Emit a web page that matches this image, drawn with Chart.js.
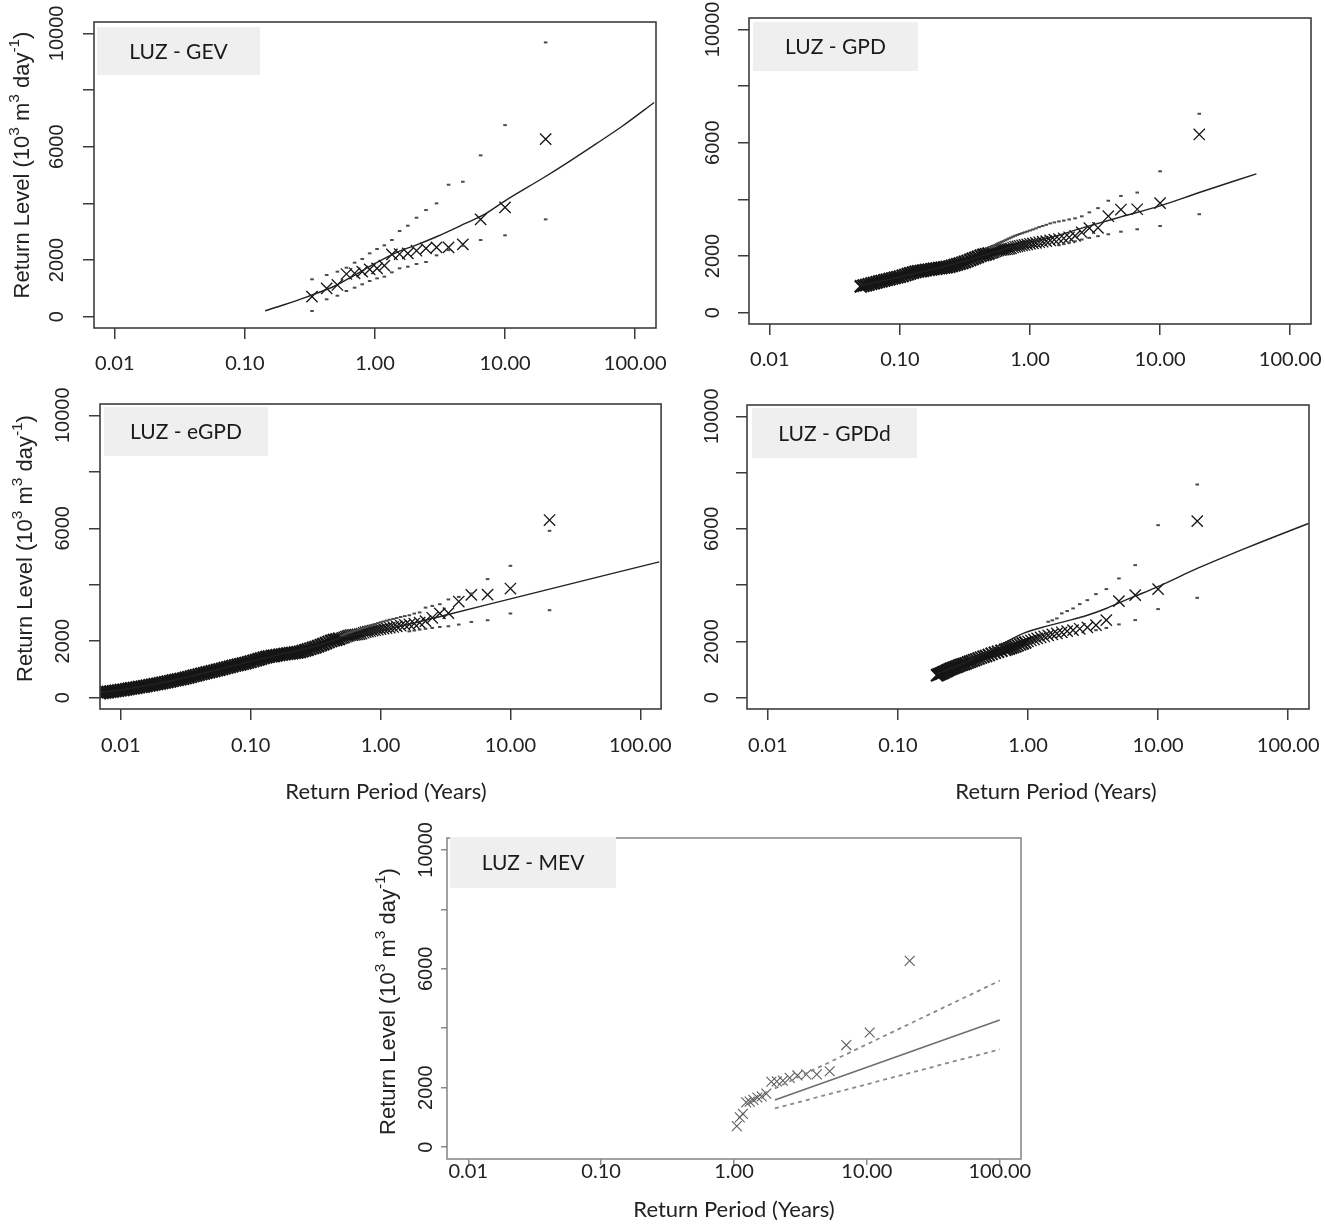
<!DOCTYPE html>
<html>
<head>
<meta charset="utf-8">
<title>LUZ - return level plots</title>
<script src="https://cdn.jsdelivr.net/npm/chart.js@4.4.1/dist/chart.umd.min.js"></script>
<style>
  html, body { margin: 0; padding: 0; background: #fff; }
  body { position: relative; width: 1325px; height: 1228px; overflow: hidden; }
  canvas { position: absolute; }
</style>
</head>
<body>
<canvas id="gev"></canvas>
<canvas id="gpd"></canvas>
<canvas id="egpd"></canvas>
<canvas id="gpdd"></canvas>
<canvas id="mev"></canvas>
<script>
/* ============================================
   DATA
   ============================================ */

const xTickValues = [0.01, 0.1, 1, 10, 100];
const xTickLabels = ['0.01', '0.10', '1.00', '10.00', '100.00'];
const yTickValues = [0, 2000, 4000, 6000, 8000, 10000];
const yTickLabels = ['0', '2000', '', '6000', '', '10000'];

// annual maxima, ascending (crosses of GEV and MEV panels)
const annualMax = [706, 1000, 1118, 1506, 1530, 1588, 1670, 1706, 1800, 2200, 2211, 2235, 2329, 2411, 2447, 2447, 2552, 3434, 3857, 6267];

// GEV
const gevPeriod = [0.328, 0.425, 0.514, 0.603, 0.697, 0.798, 0.91, 1.037, 1.18, 1.348, 1.546, 1.787, 2.085, 2.466, 2.972, 3.677, 4.733, 6.487, 9.99, 20.5];
const gevUpper = [1319, 1470, 1588, 1729, 1905, 2035, 2235, 2388, 2517, 2705, 3023, 3210, 3492, 3763, 3999, 4656, 4762, 5693, 6761, 9680];
const gevLower = [201, 613, 741, 906, 1023, 1141, 1259, 1353, 1412, 1564, 1706, 1764, 1859, 1929, 2164, 2350, 2500, 2705, 2870, 3434];
const gevCurvePeriod = [0.143, 0.2, 0.3, 0.5, 0.7, 1, 1.5, 2, 3, 5, 7, 10, 20, 30, 50, 80, 140];
const gevCurveLevel = [210, 420, 700, 1100, 1470, 1880, 2290, 2500, 2830, 3300, 3620, 4090, 4920, 5430, 6100, 6730, 7560];

// daily exceedances (GPD / eGPD crosses): largest 40
const topPeriod = [20, 10, 6.67, 5, 4, 3.33, 2.86, 2.5, 2.22, 2, 1.818, 1.667, 1.538, 1.429, 1.333, 1.25, 1.176, 1.111, 1.053, 1,
  0.952, 0.909, 0.87, 0.833, 0.8, 0.769, 0.741, 0.714, 0.69, 0.667, 0.645, 0.625, 0.606, 0.588, 0.571, 0.556, 0.541, 0.526, 0.513, 0.5];
const topLevel = [6290, 3865, 3650, 3640, 3405, 2995, 2985, 2830, 2710, 2660, 2625, 2600, 2575, 2550, 2525, 2505, 2485, 2465, 2445, 2430,
  2410, 2390, 2375, 2355, 2340, 2325, 2300, 2270, 2250, 2240, 2235, 2225, 2218, 2212, 2200, 2180, 2160, 2140, 2120, 2100];
// dense part of the band
const bandPeriod = [0.479, 0.457, 0.437, 0.417, 0.398, 0.38, 0.363, 0.347, 0.331, 0.316,
  0.302, 0.288, 0.275, 0.263, 0.251, 0.24, 0.229, 0.219, 0.209, 0.2,
  0.191, 0.182, 0.174, 0.166, 0.158, 0.151, 0.145, 0.138, 0.132, 0.126,
  0.12, 0.115, 0.11, 0.105, 0.1, 0.0955, 0.0912, 0.0871, 0.0832, 0.0794,
  0.0759, 0.0724, 0.0692, 0.0661, 0.0631, 0.0603, 0.0575, 0.055, 0.0525, 0.0501,
  0.0479, 0.0457, 0.0437, 0.0417, 0.0398, 0.038, 0.0363, 0.0347, 0.0331, 0.0316,
  0.0302, 0.0288, 0.0275, 0.0263, 0.0251, 0.024, 0.0229, 0.0219, 0.0209, 0.02,
  0.0191, 0.0182, 0.0174, 0.0166, 0.0158, 0.0151, 0.0145, 0.0138, 0.0132, 0.0126,
  0.012, 0.0115, 0.011, 0.0105, 0.01, 0.00955, 0.00912, 0.00871, 0.00832, 0.00794,
  0.00759, 0.00724, 0.00692];
const bandLevel = [2081, 2060, 2040, 2009, 1972, 1935, 1898, 1861, 1824, 1789,
  1761, 1733, 1706, 1678, 1650, 1622, 1607, 1595, 1582, 1569,
  1557, 1544, 1530, 1515, 1500, 1485, 1470, 1455, 1440, 1412,
  1385, 1357, 1329, 1302, 1274, 1250, 1228, 1206, 1184, 1162,
  1140, 1117, 1093, 1069, 1045, 1022, 998, 974, 951, 929,
  907, 885, 862, 840, 818, 794, 770, 746, 723, 699,
  675, 656, 638, 619, 601, 582, 564, 545, 527, 508,
  490, 471, 453, 435, 419, 404, 388, 373, 358, 342,
  327, 311, 296, 281, 265, 251, 239, 226, 214, 201,
  188, 176, 163];

// GPD
const gpdUpper = [7020, 4990, 4240, 4120, 3950, 3690, 3540, 3400, 3330, 3290, 3250, 3220, 3185, 3150, 3100, 3060, 3020, 2975, 2935, 2900,
  2865, 2835, 2805, 2775, 2745, 2715, 2685, 2650, 2620, 2585, 2555, 2525, 2500, 2475, 2450, 2420, 2390, 2360, 2330, 2300];
const gpdLower = [3475, 3060, 2943, 2858, 2766, 2700, 2640, 2580, 2520, 2470, 2420, 2380];
const gpdCurvePeriod = [0.05, 0.1, 0.2, 0.33, 0.5, 0.7, 1, 1.5, 2.57, 5, 10, 20, 55];
const gpdCurveLevel = [950, 1260, 1580, 1850, 2100, 2300, 2480, 2680, 3000, 3380, 3770, 4240, 4900];

// eGPD
const egpdUpper = [5910, 4670, 4200, 3690, 3570, 3480, 3310, 3250, 3190, 3020, 2980, 2920, 2890, 2860, 2820, 2790, 2760, 2730, 2700, 2670,
  2640, 2610, 2580, 2555, 2530, 2500, 2475, 2450, 2425, 2400, 2380, 2360, 2340, 2320, 2300, 2280, 2260, 2240, 2220, 2200];
const egpdLower = [3098, 2981, 2743, 2683, 2590, 2530, 2506, 2470, 2440, 2410, 2380, 2350];
const egpdCurvePeriod = [0.0069, 0.01, 0.0167, 0.03, 0.055, 0.1, 0.18, 0.32, 0.5, 0.7, 1, 3.2, 10, 140];
const egpdCurveLevel = [180, 275, 450, 690, 985, 1285, 1560, 1830, 2130, 2280, 2380, 2930, 3500, 4810];

// GPDd (declustered)
const gpddPeriod = [20, 10, 6.67, 5, 4, 3.33, 2.86, 2.5, 2.22, 2, 1.818, 1.667, 1.538, 1.429, 1.333, 1.25, 1.176, 1.111, 1.053, 1,
  0.952, 0.909, 0.87, 0.833, 0.8, 0.769, 0.741, 0.714, 0.69, 0.667, 0.625, 0.588, 0.556, 0.526, 0.5, 0.476, 0.455, 0.435, 0.417, 0.4,
  0.385, 0.37, 0.357, 0.345, 0.333, 0.323, 0.313, 0.303, 0.294, 0.286, 0.278, 0.27, 0.263, 0.256, 0.25, 0.244, 0.238, 0.233, 0.227, 0.222,
  0.217, 0.213, 0.208, 0.204, 0.2];
const gpddLevel = [6273, 3859, 3646, 3433, 2758, 2581, 2499, 2450, 2403, 2368, 2325, 2285, 2250, 2214, 2178, 2143, 2108, 2072, 2036, 2001,
  1965, 1930, 1895, 1860, 1825, 1800, 1775, 1750, 1728, 1705, 1670, 1635, 1600, 1560, 1516, 1485, 1455, 1425, 1395, 1362,
  1335, 1305, 1278, 1250, 1220, 1200, 1180, 1160, 1135, 1113, 1092, 1071, 1050, 1029, 1008, 985, 960, 936, 912, 888,
  870, 852, 835, 818, 800];
const gpddUpper = [7575, 6131, 4711, 4238, 3859, 3681, 3468, 3326, 3173, 3080, 2996, 2818, 2750, 2700];
const gpddLower = [3550, 3149, 2758, 2605, 2480, 2400];
const gpddCurvePeriod = [0.198, 0.337, 0.61, 0.92, 1.39, 2, 2.86, 4.03, 5, 6.67, 10, 20.4, 50, 143];
const gpddCurveLevel = [840, 1278, 1871, 2285, 2545, 2730, 2930, 3180, 3370, 3610, 3950, 4610, 5360, 6190];

// MEV
const mevPeriod = [1.05, 1.105, 1.167, 1.235, 1.313, 1.4, 1.5, 1.615, 1.75, 1.909, 2.1, 2.333, 2.625, 3.0, 3.5, 4.2, 5.25, 7.0, 10.5, 21.0];
const mevCurvePeriod = [2.03, 100];
const mevCurveLevel = [1582, 4276];
const mevUpperLevel = [1976, 5600];
const mevLowerLevel = [1302, 3289];

/* ============================================
   LAYOUT (page pixels)
   ============================================ */

const panels = {
  gev:  { name: 'LUZ - GEV',  canvas: [0, 0, 670, 385],     box: [94, 22, 656, 328],   tag: [3, 5, 163, 48],  yLab: 37, yTitle: 71, yShift: -10, xLab: 36, frame: '#3c3c3c', tick: 11 },
  gpd:  { name: 'LUZ - GPD',  canvas: [670, 0, 655, 385],   box: [749, 18, 1311, 324], tag: [4, 4, 165, 49],  yLab: 36, xLab: 36, frame: '#3c3c3c', tick: 11 },
  egpd: { name: 'LUZ - eGPD', canvas: [0, 385, 672, 430],   box: [100, 404, 662, 709], tag: [4, 3, 164, 49],  yLab: 37, yTitle: 74, yShift: -8, xLab: 37, xTitle: [83, 286], frame: '#3c3c3c', tick: 11 },
  gpdd: { name: 'LUZ - GPDd', canvas: [672, 385, 653, 430], box: [747, 405, 1309, 709], tag: [5, 3, 165, 50],  yLab: 35, xLab: 37, xTitle: [83, 309], frame: '#3c3c3c', tick: 11 },
  mev:  { name: 'LUZ - MEV',  canvas: [360, 815, 680, 413], box: [447, 838, 1021, 1159], tag: [3, -1, 166, 51], yLab: 21, yTitle: 58, yShift: 3, xLab: 13, xTitle: [51, 287], frame: '#8a8a8a', tick: 6 },
};

const yTitleParts = [
  { t: 'Return Level (10' }, { t: '3', sup: true }, { t: ' m' }, { t: '3', sup: true },
  { t: ' day' }, { t: '-1', sup: true }, { t: ')' },
];
const xTitleText = 'Return Period (Years)';

/**
 * Draw a line of text with superscripts, centred on (0,0)
 */
function drawRich(ctx, parts, size, family) {
  const widths = parts.map(p => {
    ctx.font = (p.sup ? size * 0.7 : size) + 'px ' + family;
    return ctx.measureText(p.t).width;
  });
  let x = -widths.reduce((a, b) => a + b, 0) / 2;
  ctx.textAlign = 'left';
  parts.forEach((p, i) => {
    ctx.font = (p.sup ? size * 0.7 : size) + 'px ' + family;
    ctx.fillText(p.t, x, p.sup ? -size * 0.36 : 0);
    x += widths[i];
  });
}

/* R-like frame, labels and panel tag */
const rStyle = {
  id: 'rStyle',
  afterDraw(chart) {
    const p = panels[chart.canvas.id];
    const { ctx, chartArea: a } = chart;
    const xs = chart.scales.x, ys = chart.scales.y;
    ctx.save();

    ctx.strokeStyle = p.frame;
    ctx.lineWidth = 1.6;
    ctx.strokeRect(a.left, a.top, a.right - a.left, a.bottom - a.top);

    // panel tag
    ctx.fillStyle = '#efefef';
    ctx.fillRect(a.left + p.tag[0], a.top + p.tag[1], p.tag[2], p.tag[3]);
    ctx.fillStyle = '#1a1a1a';
    ctx.font = '21px Lato';
    ctx.textAlign = 'center';
    ctx.textBaseline = 'middle';
    ctx.fillText(p.name, a.left + p.tag[0] + p.tag[2] / 2, a.top + p.tag[1] + p.tag[3] / 2 + 1);

    // x tick labels
    ctx.fillStyle = '#222';
    ctx.font = '20px Lato';
    xTickValues.forEach((v, i) => {
      ctx.fillText(xTickLabels[i], xs.getPixelForValue(v), a.bottom + p.xLab);
    });

    // y tick labels, rotated like R
    ctx.font = '20px "Liberation Sans"';
    yTickValues.forEach((v, i) => {
      if (!yTickLabels[i]) return;
      ctx.save();
      ctx.translate(a.left - p.yLab, ys.getPixelForValue(v));
      ctx.rotate(-Math.PI / 2);
      ctx.fillText(yTickLabels[i], 0, 0);
      ctx.restore();
    });

    if (p.yTitle) {
      ctx.save();
      ctx.translate(a.left - p.yTitle, (a.top + a.bottom) / 2 + p.yShift);
      ctx.rotate(-Math.PI / 2);
      drawRich(ctx, yTitleParts, 22, '"Liberation Sans"');
      ctx.restore();
    }

    if (p.xTitle) {
      ctx.textAlign = 'center';
      ctx.font = '22px Lato';
      ctx.fillText(xTitleText, a.left + p.xTitle[1], a.bottom + p.xTitle[0]);
    }
    ctx.restore();
  }
};
Chart.register(rStyle);

/* ============================================
   DATASETS
   ============================================ */

const pts = (xs, ys) => ys.map((y, i) => ({ x: xs[i], y }));
const pick = (arr, idx) => idx.map(i => arr[i]);

function crosses(xs, ys, color, r, w) {
  return { data: pts(xs, ys), pointStyle: 'crossRot', pointRadius: r, borderWidth: w,
           borderColor: color, backgroundColor: color, showLine: false, order: 2 };
}
function dots(xs, ys) {
  return { data: pts(xs, ys), pointStyle: 'line', pointRadius: 1.8, borderWidth: 2,
           borderColor: '#4a4a4a', backgroundColor: '#4a4a4a', showLine: false, order: 1 };
}
function curve(xs, ys, color, width, dash) {
  return { data: pts(xs, ys), showLine: true, pointRadius: 0, borderWidth: width,
           borderColor: color, borderDash: dash || [], cubicInterpolationMode: 'monotone', order: 0 };
}

// GPD band stops at the threshold (return period ~0.05 years)
const gpdBand = bandPeriod.map((t, i) => i).filter(i => bandPeriod[i] >= 0.05);
// GPDd: sparse crosses above 1 year, packed band below
const gpddSparse = gpddPeriod.map((t, i) => i).filter(i => gpddPeriod[i] >= 1);
const gpddDense = gpddPeriod.map((t, i) => i).filter(i => gpddPeriod[i] < 1);
const ink = '#151515';

const datasets = {
  gev: [
    curve(gevCurvePeriod, gevCurveLevel, '#222', 1.4),
    crosses(gevPeriod, annualMax, ink, 8, 1.3),
    dots(gevPeriod, gevUpper),
    dots(gevPeriod, gevLower),
  ],
  gpd: [
    curve(gpdCurvePeriod, gpdCurveLevel, '#222', 1.4),
    crosses(topPeriod, topLevel, ink, 8, 1.3),
    crosses(pick(bandPeriod, gpdBand), pick(bandLevel, gpdBand), ink, 8.5, 2.4),
    dots(topPeriod, gpdUpper),
    dots(topPeriod, gpdLower),
  ],
  egpd: [
    curve(egpdCurvePeriod, egpdCurveLevel, '#222', 1.4),
    crosses(topPeriod, topLevel, ink, 8, 1.3),
    crosses(bandPeriod, bandLevel, ink, 8.5, 2.4),
    dots(topPeriod, egpdUpper),
    dots(topPeriod, egpdLower),
  ],
  gpdd: [
    curve(gpddCurvePeriod, gpddCurveLevel, '#222', 1.4),
    crosses(pick(gpddPeriod, gpddSparse), pick(gpddLevel, gpddSparse), ink, 8, 1.3),
    crosses(pick(gpddPeriod, gpddDense), pick(gpddLevel, gpddDense), ink, 8.5, 2),
    dots(gpddPeriod, gpddUpper),
    dots(gpddPeriod, gpddLower),
  ],
  mev: [
    curve(mevCurvePeriod, mevCurveLevel, '#6e6e6e', 1.6),
    curve(mevCurvePeriod, mevUpperLevel, '#888', 1.8, [4, 4]),
    curve(mevCurvePeriod, mevLowerLevel, '#888', 1.8, [4, 4]),
    crosses(mevPeriod, annualMax, '#5e5e5e', 7, 1.1),
  ],
};

/* ============================================
   CHARTS
   ============================================ */

function renderPanel(id) {
  const p = panels[id];
  const canvas = document.getElementById(id);
  const [cx, cy, cw, ch] = p.canvas;
  const [bl, bt, br, bb] = p.box;
  canvas.width = cw;
  canvas.height = ch;
  canvas.style.left = cx + 'px';
  canvas.style.top = cy + 'px';
  canvas.style.width = cw + 'px';
  canvas.style.height = ch + 'px';

  const axisGrid = { drawOnChartArea: false, drawTicks: true, tickLength: p.tick, color: p.frame, lineWidth: 1.5 };

  return new Chart(canvas.getContext('2d'), {
    type: 'scatter',
    data: { datasets: datasets[id] },
    options: {
      responsive: false,
      animation: false,
      devicePixelRatio: 1,
      events: [],
      layout: { padding: { top: bt - cy, right: cx + cw - br, bottom: 0, left: 0 } },
      plugins: { legend: { display: false }, tooltip: { enabled: false } },
      scales: {
        x: {
          type: 'logarithmic',
          min: Math.pow(10, -2.16),
          max: Math.pow(10, 2.16),
          afterBuildTicks: s => { s.ticks = xTickValues.map(v => ({ value: v })); },
          afterFit: s => { s.height = cy + ch - bb; },
          ticks: { display: false },
          grid: axisGrid,
          border: { display: false },
        },
        y: {
          type: 'linear',
          min: -400,
          max: 10400,
          afterBuildTicks: s => { s.ticks = yTickValues.map(v => ({ value: v })); },
          afterFit: s => { s.width = bl - cx; },
          ticks: { display: false },
          grid: axisGrid,
          border: { display: false },
        }
      }
    }
  });
}

Object.keys(panels).forEach(renderPanel);
</script>
</body>
</html>
